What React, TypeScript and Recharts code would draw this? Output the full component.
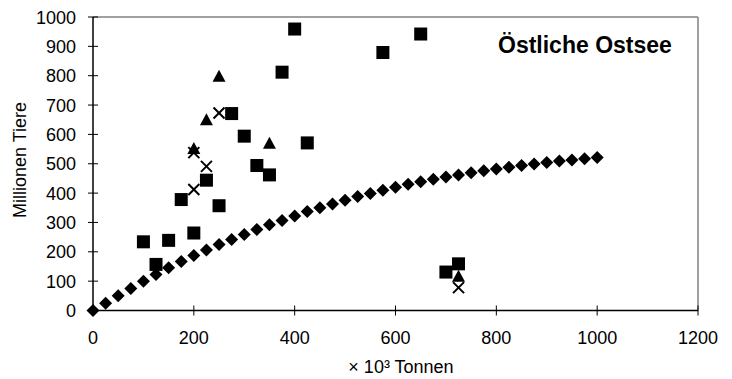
import { ReferenceLine, Scatter, ScatterChart, XAxis, YAxis } from "recharts";

const FONT = "'Liberation Sans', Arial, sans-serif";

// Modellkurve (Rauten)
const curveX = [
  0, 25, 50, 75, 100, 125, 150, 175, 200, 225, 250, 275, 300, 325, 350, 375, 400, 425, 450, 475, 500,
  525, 550, 575, 600, 625, 650, 675, 700, 725, 750, 775, 800, 825, 850, 875, 900, 925, 950, 975, 1000,
];
const curveY = [
  0, 25, 50, 75, 100, 123, 146, 167, 187, 206, 225, 242, 259, 276, 292, 307, 322, 337, 350, 363, 376,
  388, 399, 410, 420, 430, 439, 447, 455, 462, 469, 476, 482, 488, 494, 499, 504, 509, 513, 517, 521,
];

// Quadrate
const squareX = [100, 125, 150, 175, 200, 225, 250, 275, 300, 325, 350, 375, 400, 425, 575, 650, 700, 725];
const squareY = [234, 157, 239, 378, 264, 444, 357, 671, 594, 494, 462, 812, 959, 571, 879, 942, 131, 159];

// Dreiecke
const triangleX = [200, 225, 250, 350, 725];
const triangleY = [550, 648, 796, 568, 115];

// Kreuze
const crossX = [200, 200, 225, 250, 725];
const crossY = [412, 538, 491, 673, 78];

const xTicks = [0, 200, 400, 600, 800, 1000, 1200];
const yTicks = [0, 100, 200, 300, 400, 500, 600, 700, 800, 900, 1000];

const toPoints = (xs: number[], ys: number[]) => xs.map((x, i) => ({ x, y: ys[i] }));

const curve = toPoints(curveX, curveY);
const squares = toPoints(squareX, squareY);
const triangles = toPoints(triangleX, triangleY);
const crosses = toPoints(crossX, crossY);

function Diamond({ cx, cy }: any) {
  const r = 6.5;
  return <polygon points={`${cx},${cy - r} ${cx + r},${cy} ${cx},${cy + r} ${cx - r},${cy}`} fill="#000" />;
}

function Square({ cx, cy }: any) {
  return <rect x={cx - 6.5} y={cy - 6.5} width={13} height={13} fill="#000" />;
}

function Triangle({ cx, cy }: any) {
  return <polygon points={`${cx},${cy - 7} ${cx + 6.5},${cy + 5} ${cx - 6.5},${cy + 5}`} fill="#000" />;
}

function Cross({ cx, cy }: any) {
  const r = 5.5;
  return (
    <g stroke="#000" strokeWidth={2}>
      <line x1={cx - r} y1={cy - r} x2={cx + r} y2={cy + r} />
      <line x1={cx - r} y1={cy + r} x2={cx + r} y2={cy - r} />
    </g>
  );
}

function XTick({ x, y, payload }: any) {
  return (
    <g>
      <line x1={x} x2={x} y1={y - 10} y2={y} stroke="#000" />
      <text x={x} y={y + 28.5} textAnchor="middle" fontSize={18} fontFamily={FONT} fill="#000">
        {payload.value}
      </text>
    </g>
  );
}

function YTick({ x, y, payload }: any) {
  return (
    <g>
      <line x1={x} x2={x + 10} y1={y} y2={y} stroke="#000" />
      <text x={x - 12} y={y + 6.5} textAnchor="end" fontSize={18} fontFamily={FONT} fill="#000">
        {payload.value}
      </text>
    </g>
  );
}

export default function App() {
  return (
    <div style={{ position: "absolute", left: 0, top: 0, width: 732, height: 379, background: "#fff" }}>
      <ScatterChart width={732} height={379} margin={{ top: 17, right: 34, bottom: 0, left: 0 }}>
        <XAxis
          type="number"
          dataKey="x"
          domain={[0, 1200]}
          ticks={xTicks}
          interval={0}
          height={68.5}
          tickSize={5}
          tickMargin={0}
          tickLine={false}
          tick={<XTick />}
          axisLine={{ stroke: "#000", strokeWidth: 1.5 }}
          label={() => (
            <text x={401} y={373} textAnchor="middle" fontSize={18} fontFamily={FONT} fill="#000">
              × 10³ Tonnen
            </text>
          )}
        />
        <YAxis
          type="number"
          dataKey="y"
          domain={[0, 1000]}
          ticks={yTicks}
          interval={0}
          width={93}
          tickSize={5}
          tickMargin={0}
          tickLine={false}
          tick={<YTick />}
          axisLine={{ stroke: "#000", strokeWidth: 1.5 }}
          label={() => (
            <text
              x={26}
              y={160}
              transform="rotate(-90 26 160)"
              textAnchor="middle"
              fontSize={18}
              fontFamily={FONT}
              fill="#000"
            >
              Millionen Tiere
            </text>
          )}
        />
        <ReferenceLine
          y={1000}
          stroke="#808080"
          strokeWidth={1.5}
          label={() => (
            <text x={498} y={53} fontSize={23} fontWeight="bold" fontFamily={FONT} fill="#000">
              Östliche Ostsee
            </text>
          )}
        />
        <ReferenceLine x={1200} stroke="#808080" strokeWidth={1.5} />
        <Scatter data={curve} shape={<Diamond />} isAnimationActive={false} />
        <Scatter data={squares} shape={<Square />} isAnimationActive={false} />
        <Scatter data={triangles} shape={<Triangle />} isAnimationActive={false} />
        <Scatter data={crosses} shape={<Cross />} isAnimationActive={false} />
      </ScatterChart>
    </div>
  );
}
